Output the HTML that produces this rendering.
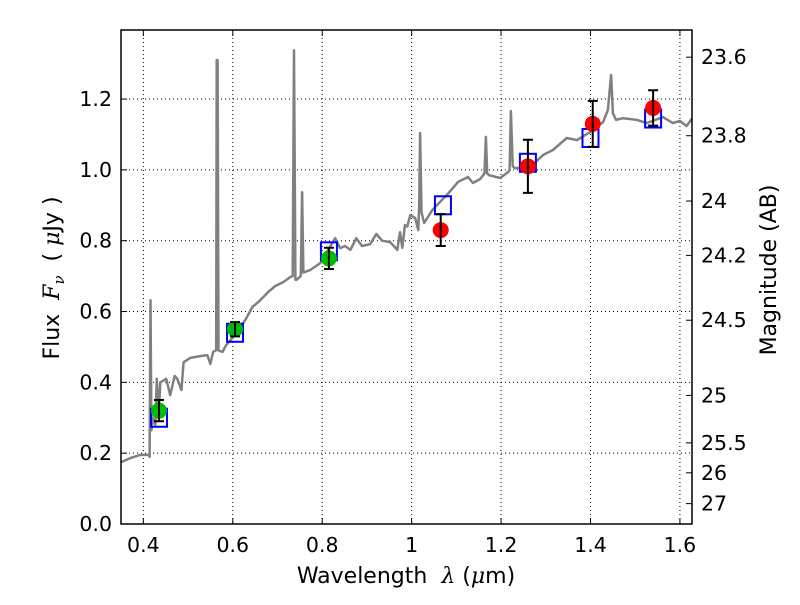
<!DOCTYPE html>
<html><head><meta charset="utf-8"><style>
body{margin:0;background:#fff;}
svg{font-family:"DejaVu Sans","Liberation Sans",sans-serif;}
text{white-space:pre;}
</style></head><body>
<svg id="c" width="800" height="600"></svg>
<script>
const specX=[0.351,0.371,0.393,0.411,0.414,0.416,0.418,0.421,0.427,0.43,0.434,0.438,0.451,0.46,0.47,0.476,0.485,0.49,0.505,0.527,0.543,0.55,0.556,0.563,0.564,0.566,0.568,0.577,0.585,0.599,0.612,0.628,0.644,0.657,0.666,0.679,0.695,0.713,0.728,0.734,0.737,0.740,0.742,0.752,0.755,0.758,0.773,0.796,0.813,0.829,0.84,0.851,0.863,0.876,0.889,0.907,0.921,0.934,0.952,0.968,0.974,0.979,0.985,0.99,0.997,1.008,1.015,1.017,1.019,1.022,1.028,1.046,1.082,1.104,1.126,1.137,1.153,1.163,1.166,1.169,1.173,1.198,1.216,1.219,1.222,1.226,1.231,1.265,1.294,1.316,1.347,1.37,1.399,1.428,1.439,1.446,1.45,1.457,1.473,1.504,1.526,1.562,1.584,1.6,1.615,1.627];
const specY=[0.175,0.186,0.195,0.195,0.19,0.632,0.265,0.3,0.28,0.41,0.3,0.4,0.41,0.364,0.418,0.41,0.378,0.457,0.469,0.474,0.477,0.452,0.486,0.491,1.31,1.31,0.49,0.486,0.505,0.525,0.548,0.576,0.613,0.627,0.638,0.655,0.672,0.683,0.697,0.7,1.338,0.69,0.689,0.7,0.937,0.71,0.717,0.737,0.774,0.807,0.779,0.785,0.774,0.807,0.785,0.79,0.819,0.8,0.796,0.774,0.824,0.78,0.844,0.84,0.872,0.864,0.83,0.9,1.104,0.88,0.85,0.886,0.934,0.966,0.98,0.963,0.974,0.99,1.093,0.99,0.985,0.977,0.994,1.0,1.166,1.01,1.005,1.008,1.042,1.056,1.09,1.084,1.107,1.135,1.169,1.268,1.16,1.141,1.146,1.141,1.132,1.149,1.132,1.138,1.124,1.145];
const obsX=[0.435,0.605,0.815,1.065,1.26,1.405,1.54];
const obsY=[0.32,0.55,0.75,0.83,1.01,1.13,1.175];
const obsErr=[0.03,0.02,0.03,0.045,0.075,0.065,0.05];
const obsColor=['#00bb00','#00bb00','#00bb00','red','red','red','red'];
const modX=[0.435,0.605,0.815,1.07,1.26,1.40,1.54];
const modY=[0.30,0.54,0.77,0.90,1.02,1.09,1.145];
const xTicks=[0.4,0.6,0.8,1,1.2,1.4,1.6];
const xLabels=['0.4','0.6','0.8','1','1.2','1.4','1.6'];
const yTicks=[0,0.2,0.4,0.6,0.8,1.0,1.2];
const yLabels=['0.0','0.2','0.4','0.6','0.8','1.0','1.2'];
const magTicks=[23.6,23.8,24,24.2,24.5,25,25.5,26,27];
const magLabels=['23.6','23.8','24','24.2','24.5','25','25.5','26','27'];

const L=121,R=692,T=30,B=524,X0=0.35,X1=1.627,Y0=0,Y1=1.395;
const sx=v=>L+(v-X0)/(X1-X0)*(R-L);
const sy=v=>B-(v-Y0)/(Y1-Y0)*(B-T);
const svg=document.getElementById('c');
const NS='http://www.w3.org/2000/svg';
function mk(t,a,p){const e=document.createElementNS(NS,t);for(const k in a)e.setAttribute(k,a[k]);(p||svg).appendChild(e);return e;}
xTicks.forEach((v,i)=>{
 const g=mk('line',{x1:sx(v),x2:sx(v),y1:T,y2:B,stroke:'#000','stroke-width':1,'stroke-dasharray':'1,3'});
 
 
 mk('line',{x1:sx(v),x2:sx(v),y1:B,y2:B-6,stroke:'#000'});
 mk('line',{x1:sx(v),x2:sx(v),y1:T,y2:T+6,stroke:'#000'});
 const t=mk('text',{x:sx(v),y:B+28,'text-anchor':'middle','font-size':20.5});
 t.textContent=xLabels[i];
 
 
});
yTicks.forEach((v,i)=>{
 const g=mk('line',{x1:L,x2:R,y1:sy(v),y2:sy(v),stroke:'#000','stroke-width':1,'stroke-dasharray':'1,3'});
 
 
 mk('line',{x1:L,x2:L+6,y1:sy(v),y2:sy(v),stroke:'#000'});
 const t=mk('text',{x:L-9,y:sy(v)+7,'text-anchor':'end','font-size':20.5});
 t.textContent=yLabels[i];
 
 
});
magTicks.forEach((m,i)=>{
 const f=Math.pow(10,(23.9-m)/2.5);
 mk('line',{x1:R,x2:R-6,y1:sy(f),y2:sy(f),stroke:'#000'});
 const t=mk('text',{x:R+9,y:sy(f)+7,'font-size':20.5});
 t.textContent=magLabels[i];
 
 
});
let d='';specX.forEach((v,i)=>{d+=(i?'L':'M')+sx(v).toFixed(1)+','+sy(specY[i]).toFixed(1);});
const sp=mk('path',{d:d,fill:'none',stroke:'#808080','stroke-width':2.5,'stroke-linejoin':'round'});


modX.forEach((v,i)=>{
 const r=mk('rect',{x:sx(v)-8,y:sy(modY[i])-9,width:16,height:18,fill:'none',stroke:'#0000ff','stroke-width':2});
 
 
});
obsX.forEach((v,i)=>{
 const c=mk('circle',{cx:sx(v),cy:sy(obsY[i]),r:8,fill:obsColor[i]});
 
 
 const y1=sy(obsY[i]+obsErr[i]),y2=sy(obsY[i]-obsErr[i]),x=sx(v);
 const e=mk('path',{d:`M${x},${y1}L${x},${y2}M${x-5},${y1}L${x+5},${y1}M${x-5},${y2}L${x+5},${y2}`,stroke:'#000','stroke-width':2,fill:'none'});
 
 
});
const fr=mk('rect',{x:L,y:T,width:R-L,height:B-T,fill:'none',stroke:'#000','stroke-width':1.5});


const xt=mk('text',{x:406,y:583,'text-anchor':'middle','font-size':22});
xt.innerHTML='Wavelength  <tspan font-style="italic" font-family="DejaVu Serif,serif">λ</tspan> (<tspan font-style="italic" font-family="DejaVu Serif,serif">μ</tspan>m)';


const yt=mk('text',{transform:'translate(59,278) rotate(-90)','text-anchor':'middle','font-size':22});
yt.innerHTML='Flux  <tspan font-style="italic" font-family="DejaVu Serif,serif">F<tspan font-size="15" dy="5">ν</tspan></tspan><tspan dy="-5">  ( </tspan><tspan font-style="italic" font-family="DejaVu Serif,serif">μ</tspan>Jy )';


const y2=mk('text',{transform:'translate(776,270) rotate(-90)','text-anchor':'middle','font-size':22});
y2.textContent='Magnitude (AB)';


</script>
</body></html>
